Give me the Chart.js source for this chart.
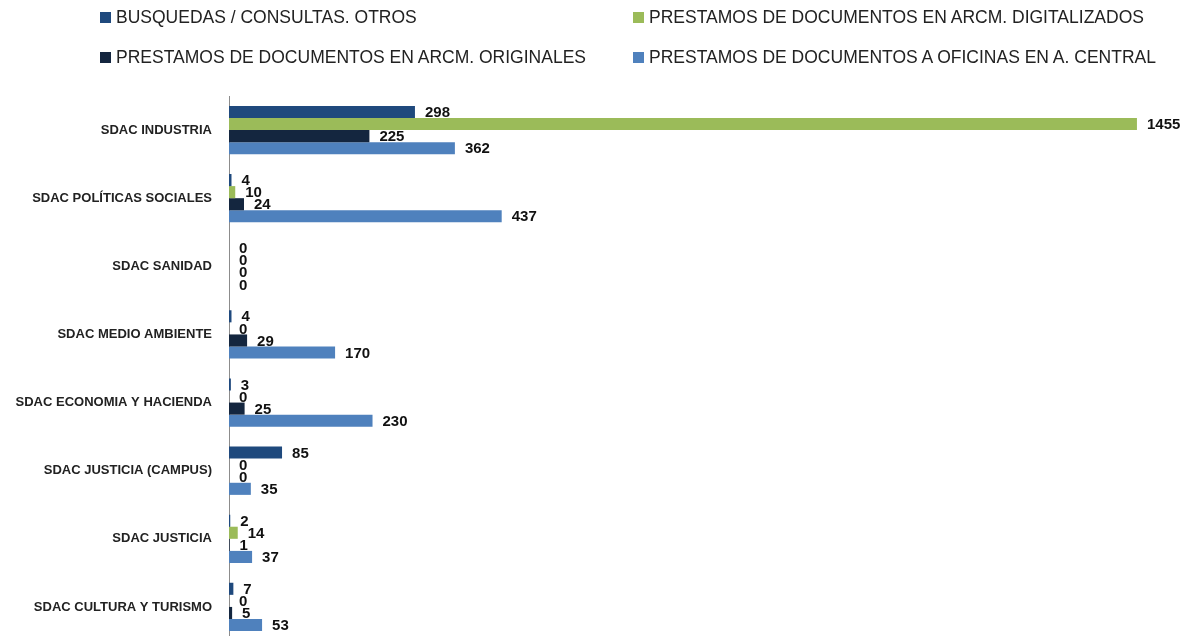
<!DOCTYPE html>
<html>
<head>
<meta charset="utf-8">
<script src="https://cdn.jsdelivr.net/npm/chart.js@4/dist/chart.umd.min.js"></script>
<style>
  body { margin: 0; background: #fff; overflow: hidden; }
  #wrap { position: relative; width: 1191px; height: 636px; overflow: hidden; }
  #grafico { position: absolute; left: 0; top: 0; }
  #leyenda { position: absolute; left: 0; top: 0; width: 1191px; height: 80px;
    font-family: "Liberation Sans", Arial, sans-serif; font-size: 17.5px; color: #222; }
  .item { position: absolute; display: flex; align-items: center; white-space: nowrap; }
  .cuadro { width: 11px; height: 11px; margin-right: 5px; }
</style>
</head>
<body>
<div id="wrap">
  <canvas id="grafico" width="1191" height="641"></canvas>
  <div id="leyenda"></div>
</div>
<script>
// ================= DATOS =================
const categorias = [
  'SDAC INDUSTRIA',
  'SDAC POLÍTICAS SOCIALES',
  'SDAC SANIDAD',
  'SDAC MEDIO AMBIENTE',
  'SDAC ECONOMIA Y HACIENDA',
  'SDAC JUSTICIA (CAMPUS)',
  'SDAC JUSTICIA',
  'SDAC CULTURA Y TURISMO'
];

const busquedas     = [298, 4, 0, 4, 3, 85, 2, 7];
const digitalizados = [1455, 10, 0, 0, 0, 0, 14, 0];
const originales    = [225, 24, 0, 29, 25, 0, 1, 5];
const aOficinas     = [362, 437, 0, 170, 230, 35, 37, 53];

const series = [
  { nombre: 'BUSQUEDAS / CONSULTAS. OTROS', datos: busquedas, color: '#1f497d' },
  { nombre: 'PRESTAMOS DE DOCUMENTOS EN ARCM. DIGITALIZADOS', datos: digitalizados, color: '#9bbb59' },
  { nombre: 'PRESTAMOS DE DOCUMENTOS EN ARCM. ORIGINALES', datos: originales, color: '#14263f' },
  { nombre: 'PRESTAMOS DE DOCUMENTOS A OFICINAS EN A. CENTRAL', datos: aOficinas, color: '#4f81bd' }
];

// ================= LEYENDA (2 columnas) =================
const leyenda = document.getElementById('leyenda');
const posLeyenda = [[100, 17], [633, 17], [100, 57], [633, 57]];
series.forEach((s, i) => {
  const item = document.createElement('div');
  item.className = 'item';
  item.style.left = posLeyenda[i][0] + 'px';
  item.style.top = (posLeyenda[i][1] - 11) + 'px';
  item.style.height = '22px';
  item.innerHTML = '<span class="cuadro" style="background:' + s.color + '"></span>' + s.nombre;
  leyenda.appendChild(item);
});

// etiquetas de valor al final de cada barra
const etiquetasValor = {
  id: 'etiquetasValor',
  afterDatasetsDraw(chart) {
    const ctx = chart.ctx;
    ctx.save();
    ctx.font = 'bold 15px "Liberation Sans", Arial, sans-serif';
    ctx.fillStyle = '#111';
    ctx.textAlign = 'left';
    ctx.textBaseline = 'middle';
    chart.data.datasets.forEach((ds, i) => {
      const meta = chart.getDatasetMeta(i);
      meta.data.forEach((barra, j) => {
        ctx.fillText(String(ds.data[j]), barra.x + 10, barra.y + 1);
      });
    });
    ctx.restore();
  }
};

new Chart(document.getElementById('grafico'), {
  type: 'bar',
  data: {
    labels: categorias,
    datasets: series.map(s => ({
      label: s.nombre,
      data: s.datos,
      backgroundColor: s.color,
      borderWidth: 0,
      categoryPercentage: 0.71,
      barPercentage: 1.0
    }))
  },
  options: {
    indexAxis: 'y',
    responsive: false,
    animation: false,
    layout: { padding: { top: 96, right: 11, bottom: 0, left: 0 } },
    plugins: {
      legend: { display: false },
      tooltip: { enabled: false }
    },
    scales: {
      x: {
        display: false,
        min: 0,
        max: 1524
      },
      y: {
        grid: { display: false, drawTicks: false },
        border: { display: true, color: '#8c8c8c', width: 1 },
        ticks: {
          padding: 17,
          color: '#222',
          font: { family: '"Liberation Sans", Arial, sans-serif', size: 13, weight: 'bold' }
        },
        afterFit(scale) {
          scale.width = 229;
          scale.paddingTop = 0;
          scale.paddingBottom = 0;
        }
      }
    }
  },
  plugins: [etiquetasValor]
});
</script>
</body>
</html>
